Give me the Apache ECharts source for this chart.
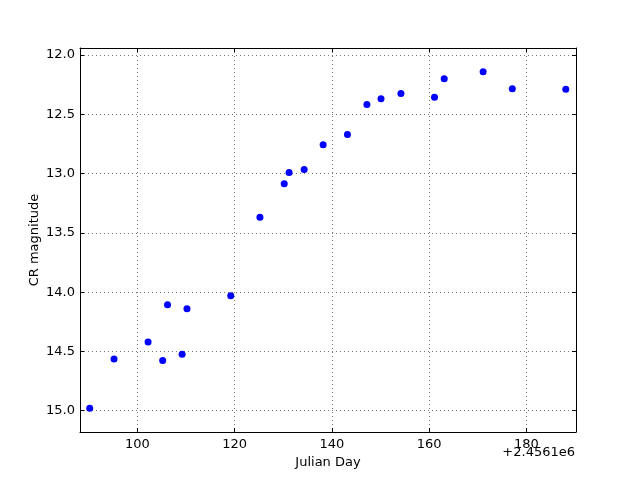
<!DOCTYPE html>
<html>
<head>
<meta charset="utf-8">
<script src="https://cdn.jsdelivr.net/npm/echarts@6/dist/echarts.min.js"></script>
<style>html,body{margin:0;padding:0;background:#fff;}#c{width:640px;height:480px;}</style>
</head>
<body>
<div id="c"></div>
<script>
// Julian Day offset from 2456100
const days = [90.2, 95.2, 102.2, 105.2, 106.2, 109.2, 110.2, 119.2, 125.2, 130.2, 131.2, 134.3, 138.2, 143.2, 147.2, 150.1, 154.2, 161.1, 163.1, 171.1, 177.1, 188.1];
const mags = [14.98, 14.565, 14.42, 14.576, 14.107, 14.525, 14.14, 14.03, 13.367, 13.085, 12.99, 12.965, 12.756, 12.67, 12.416, 12.368, 12.323, 12.356, 12.2, 12.14, 12.284, 12.287];
const xTicks = [100, 120, 140, 160, 180];
const yTicks = [12.0, 12.5, 13.0, 13.5, 14.0, 14.5, 15.0];
const xRange = [88.2, 190.2];
const yRange = [11.94, 15.18];

const font = 'DejaVu Sans';
const chart = echarts.init(document.getElementById('c'), null, {renderer: 'canvas'});
const line = {show: true, onZero: false, lineStyle: {color: '#000', width: 1}};
const tick = (vals) => ({show: true, inside: true, length: 4, customValues: vals, lineStyle: {color: '#000', width: 1}});
const grid = {show: true, lineStyle: {color: '#777', width: 1, type: [1, 3]}};
const data = days.map((d, i) => [d, mags[i]]);

chart.setOption({
  animation: false,
  backgroundColor: '#fff',
  grid: {left: 80, right: 64, top: 48, bottom: 48, containLabel: false},
  xAxis: [
    {type: 'value', position: 'bottom', min: xRange[0], max: xRange[1],
     axisLine: line, axisTick: tick(xTicks), splitLine: grid,
     axisLabel: {customValues: xTicks, color: '#000', fontFamily: font, fontSize: 13, margin: 6, formatter: v => String(Math.round(v))},
     name: 'Julian Day', nameLocation: 'middle', nameGap: 24, nameMoveOverlap: false,
     nameTextStyle: {color: '#000', fontFamily: font, fontSize: 13}},
    {type: 'value', position: 'top', min: xRange[0], max: xRange[1],
     axisLine: line, axisTick: tick(xTicks), splitLine: {show: false},
     axisLabel: {show: false}}
  ],
  yAxis: [
    {type: 'value', position: 'left', inverse: true, min: yRange[0], max: yRange[1],
     axisLine: line, axisTick: tick(yTicks), splitLine: grid,
     axisLabel: {customValues: yTicks, color: '#000', fontFamily: font, fontSize: 13, margin: 5, formatter: v => v.toFixed(1)},
     name: 'CR magnitude', nameLocation: 'middle', nameGap: 39, nameRotate: 90, nameMoveOverlap: false,
     nameTextStyle: {color: '#000', fontFamily: font, fontSize: 13}},
    {type: 'value', position: 'right', inverse: true, min: yRange[0], max: yRange[1],
     axisLine: line, axisTick: tick(yTicks), splitLine: {show: false},
     axisLabel: {show: false}}
  ],
  graphic: [
    {type: 'text', right: 65, top: 446,
     style: {text: '+2.4561e6', fill: '#000', font: '13px "DejaVu Sans"'}}
  ],
  series: [{
    type: 'scatter', xAxisIndex: 0, yAxisIndex: 0,
    data: data, symbol: 'circle', symbolSize: 7,
    itemStyle: {color: '#0000ff', opacity: 1},
    silent: true
  }]
});
</script>
</body>
</html>
